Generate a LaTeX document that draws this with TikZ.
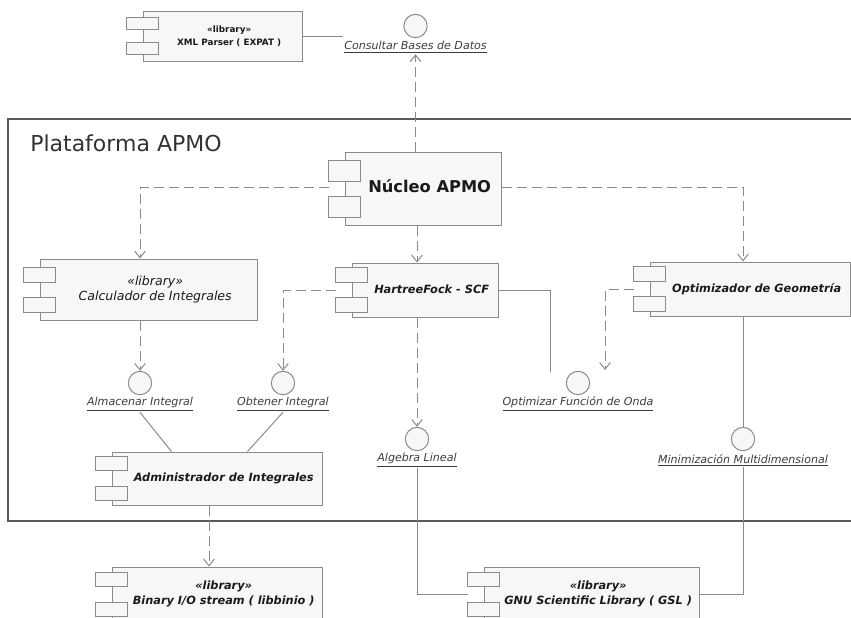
\documentclass[tikz,border=0pt]{standalone}
\usepackage{fontspec}
\setmainfont{DejaVu Sans}[ItalicFont={DejaVu Sans Oblique},BoldFont={DejaVu Sans Bold},BoldItalicFont={DejaVu Sans Bold Oblique}]
\usetikzlibrary{arrows.meta,calc}
\definecolor{apink}{HTML}{1A1A1A}
\definecolor{apline}{HTML}{8A8A8A}
\definecolor{apframe}{HTML}{5A5A5A}
\definecolor{aptitle}{HTML}{333333}
\definecolor{apfill}{HTML}{F7F7F7}
\newcommand{\apname}[1]{\hspace*{10pt}\begin{tabular}{@{}c@{}}#1\end{tabular}}
\tikzset{
  ap comp/.style={draw=apline, line width=0.75pt, fill=apfill, inner sep=0pt, text=apink,
    font=\bfseries\itshape\fontsize{8.5}{11.5}\selectfont},
  ap tab/.style={draw=apline, line width=0.75pt, fill=apfill},
  ap iface/.style={circle, draw=apline, line width=0.75pt, fill=apfill, minimum size=17.5pt, inner sep=0pt},
  ap iname/.style={font=\itshape\fontsize{8.3}{10}\selectfont, text=apink!85, inner sep=1pt},
  ap dep/.style={draw=apline, line width=0.75pt, dash pattern=on 7.5pt off 3.75pt,
    -{Straight Barb[length=5pt,width=8pt]}},
  ap use/.style={draw=apline, line width=0.75pt}
}

\begin{document}
\begin{tikzpicture}[x=0.75pt, y=-0.75pt]
  \useasboundingbox (0,0) rectangle (851,618);
  \clip (0,0) rectangle (851,618);
  % package frame
  \draw[draw=apframe, line width=1pt] (8,119) rectangle (900,521);
  \node[font=\fontsize{16.5}{20}\selectfont, text=aptitle, anchor=west, inner sep=0pt] (apmo) at (30,143) {Plataforma APMO};
  % components
  \node[ap comp, minimum width=119.25pt, minimum height=37.5pt, font=\bfseries\fontsize{6.6}{10}\selectfont]
    (xml) at (222.5,36) {\apname{«library»\\XML Parser ( EXPAT )}};
  \node[ap comp, minimum width=117pt, minimum height=54.75pt, font=\bfseries\fontsize{12.2}{14}\selectfont]
    (nucleo) at (423,188.5) {\apname{Núcleo APMO}};
  \node[ap comp, minimum width=162.75pt, minimum height=45.75pt, font=\itshape\fontsize{9.4}{11.25}\selectfont]
    (calc) at (148.5,289.5) {\apname{«library»\\Calculador de Integrales}};
  \node[ap comp, minimum width=109.5pt, minimum height=40.5pt] (hf) at (425,290) {\apname{HartreeFock - SCF}};
  \node[ap comp, minimum width=150pt, minimum height=40.5pt] (opt) at (750,289) {\apname{Optimizador de Geometría}};
  \node[ap comp, minimum width=157.5pt, minimum height=39.75pt] (admin) at (217,478.5) {\apname{Administrador de Integrales}};
  \node[ap comp, minimum width=157.5pt, minimum height=40.5pt] (bin) at (217,594) {\apname{«library»\\Binary I/O stream ( libbinio )}};
  \node[ap comp, minimum width=161.25pt, minimum height=40.5pt] (gsl) at (591.5,594) {\apname{«library»\\GNU Scientific Library ( GSL )}};
  % interfaces
  \node[ap iface] (cbd) at (415.5,26) {};
  \node[ap iname] (cbd-l) at (415.5,47) {\underline{Consultar Bases de Datos}};
  \node[ap iface] (alm) at (140,383) {};
  \node[ap iname] (alm-l) at (140,404) {\underline{Almacenar Integral}};
  \node[ap iface] (obt) at (283,383) {};
  \node[ap iname] (obt-l) at (283,404) {\underline{Obtener Integral}};
  \node[ap iface] (ofo) at (578,383) {};
  \node[ap iname] (ofo-l) at (578,404) {\underline{Optimizar Función de Onda}};
  \node[ap iface] (alg) at (417,439) {};
  \node[ap iname] (alg-l) at (417,460) {\underline{Algebra Lineal}};
  \node[ap iface] (mmd) at (743,439) {};
  \node[ap iname] (mmd-l) at (743,460) {\underline{Minimización Multidimensional}};
  \coordinate (ofo-hf) at (550,372);
  \coordinate (ofo-opt) at (605,370);
  % connectors
  \draw[ap use] (xml.east) -- (xml.east -| cbd-l.west);
  \draw[ap dep] (nucleo.north -| cbd-l) -- (cbd-l.south);
  \draw[ap dep] ($(nucleo.west)+(-16,-1.5)$) -| (calc.north -| alm);
  \draw[ap dep] ($(nucleo.east)+(0,-1.5)$) -| (opt.north -| mmd);
  \draw[ap dep] (nucleo.south -| alg) -- (hf.north -| alg);
  \draw[ap dep] (calc.south -| alm) -- (alm.north);
  \draw[ap dep] ($(hf.west)+(-16,0)$) -| (obt.north);
  \draw[ap dep] (hf.south -| alg) -- (alg.north);
  \draw[ap use] (hf.east) -| (ofo-hf);
  \draw[ap dep] ($(opt.west)+(-16,0)$) -| (ofo-opt);
  \draw[ap use] (opt.south -| mmd) -- (mmd.north);
  \draw[ap use] (alm-l.south) -- ($(admin.north west)+(60,0)$);
  \draw[ap use] (obt-l.south) -- ($(admin.north west)+(136,0)$);
  \draw[ap dep] ($(admin.south)+(-8,0)$) -- ($(bin.north)+(-8,0)$);
  \draw[ap use] (alg-l.south) |- ($(gsl.west)+(-16,0)$);
  \draw[ap use] (gsl.east) -| (mmd-l.south);
  % component tabs
  \foreach \n/\h/\g in {xml/12/13, nucleo/21/15, calc/15/15, hf/15/15, opt/15/15, admin/14/16, bin/14/16, gsl/14/16} {
    \draw[ap tab] ($(\n.west)+(-16,{-\g/2-\h})$) rectangle ($(\n.west)+(16,-\g/2)$);
    \draw[ap tab] ($(\n.west)+(-16,\g/2)$) rectangle ($(\n.west)+(16,{\g/2+\h})$);
  }
\end{tikzpicture}
\end{document}
